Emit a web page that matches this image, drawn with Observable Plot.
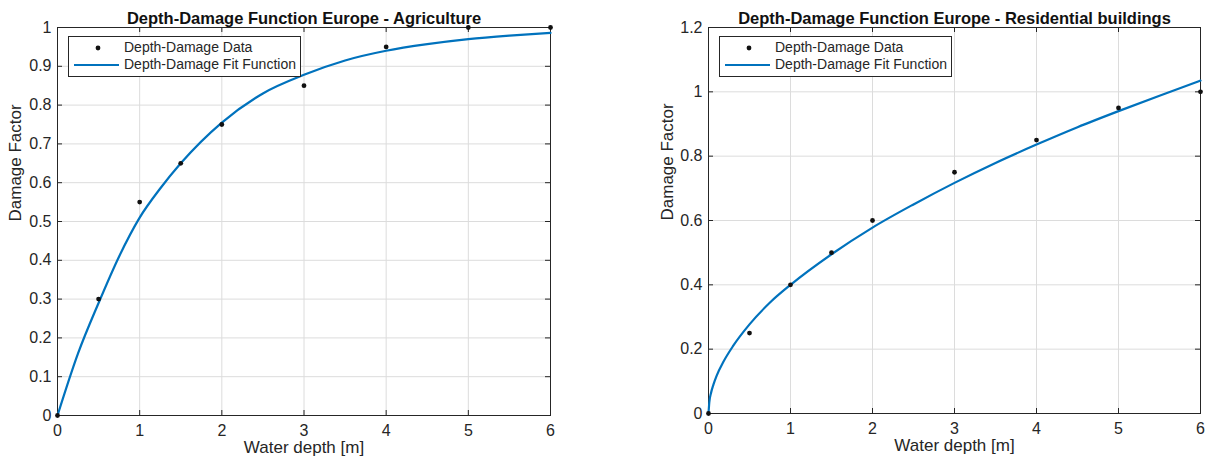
<!DOCTYPE html>
<html><head><meta charset="utf-8">
<script src="https://cdn.jsdelivr.net/npm/d3@7"></script>
<script src="https://cdn.jsdelivr.net/npm/@observablehq/plot@0.6"></script>
<style>
body{margin:0;background:#fff;font-family:"Liberation Sans",Arial,sans-serif;}
#wrap{position:relative;width:1209px;height:465px;}
.panel{position:absolute;top:0;}
.legend{position:absolute;background:#fff;border:1px solid #262626;font-size:14px;color:#262626;line-height:17px;padding:2px 4px 3px 4px;}
.legend div{display:flex;align-items:center;white-space:nowrap;}
.legend svg{margin-right:3px;}
</style>
</head><body>
<div id="wrap">
  <div id="left" class="panel" style="left:0"></div>
  <div id="right" class="panel" style="left:604px"></div>
</div>
<script>
// ---- data ----
const xTicks = [0, 1, 2, 3, 4, 5, 6];

const agriDepth  = [0, 0.5, 1, 1.5, 2, 3, 4, 5, 6];
const agriDamage = [0, 0.30, 0.55, 0.65, 0.75, 0.85, 0.95, 1.0, 1.0];
const agriFitDepth  = [0, 0.25, 0.5, 0.75, 1, 1.25, 1.5, 2, 2.5, 3, 3.5, 4, 4.5, 5, 5.5, 6];
const agriFitDamage = [0, 0.16, 0.29, 0.41, 0.51, 0.585, 0.65, 0.755, 0.83, 0.878, 0.915, 0.94, 0.957, 0.97, 0.979, 0.986];
const agriYTicks = [0, 0.1, 0.2, 0.3, 0.4, 0.5, 0.6, 0.7, 0.8, 0.9, 1];
const agriYLabels = ["0", "0.1", "0.2", "0.3", "0.4", "0.5", "0.6", "0.7", "0.8", "0.9", "1"];

const resDepth  = [0, 0.5, 1, 1.5, 2, 3, 4, 5, 6];
const resDamage = [0, 0.25, 0.40, 0.50, 0.60, 0.75, 0.85, 0.95, 1.0];
const resFitDepth  = [0, 0.01, 0.03, 0.06, 0.1, 0.18, 0.3, 0.5, 0.75, 1, 1.5, 2, 2.5, 3, 3.5, 4, 4.5, 5, 5.5, 6];
const resFitDamage = [0, 0.035, 0.063, 0.09, 0.118, 0.16, 0.21, 0.277, 0.345, 0.40, 0.495, 0.578, 0.65, 0.717, 0.779, 0.836, 0.89, 0.94, 0.988, 1.035];
const resYTicks = [0, 0.2, 0.4, 0.6, 0.8, 1, 1.2];
const resYLabels = ["0", "0.2", "0.4", "0.6", "0.8", "1", "1.2"];

const titles = ["Depth-Damage Function Europe - Agriculture", "Depth-Damage Function Europe - Residential buildings"];
const xLabel = "Water depth [m]";
const yLabel = "Damage Factor";
const legendLabels = ["Depth-Damage Data", "Depth-Damage Fit Function"];

const BLUE = "#0072BD", INK = "#262626", FONT = '"Liberation Sans", Arial, sans-serif';

function panel({depth, damage, fitDepth, fitDamage, yMax, yTicks, yLabels, title, width, ml, mr, mt, mb, ylabelDx}) {
  const H = 465, ph = H - mt - mb, pw = width - ml - mr;
  const pts = depth.map((d, i) => ({x: d, y: damage[i]}));
  const fit = fitDepth.map((d, i) => ({x: d, y: fitDamage[i]}));
  const yFmt = new Map(yTicks.map((t, i) => [t, yLabels[i]]));
  return Plot.plot({
    width, height: H,
    marginLeft: ml, marginRight: mr, marginTop: mt, marginBottom: mb,
    style: {fontFamily: FONT, color: INK, background: "#fff", overflow: "visible"},
    x: {domain: [0, 6], axis: null},
    y: {domain: [0, yMax], axis: null},
    marks: [
      Plot.ruleX(xTicks, {x: d => d, stroke: "#dcdcdc", strokeWidth: 1}),
      Plot.ruleY(yTicks, {y: d => d, stroke: "#dcdcdc", strokeWidth: 1}),
      // inward ticks
      Plot.ruleX(xTicks, {x: d => d, stroke: INK, insetTop: ph - 5}),
      Plot.ruleX(xTicks, {x: d => d, stroke: INK, insetBottom: ph - 5}),
      Plot.ruleY(yTicks, {y: d => d, stroke: INK, insetRight: pw - 5}),
      Plot.ruleY(yTicks, {y: d => d, stroke: INK, insetLeft: pw - 5}),
      Plot.frame({stroke: INK, strokeWidth: 1}),
      Plot.axisX(xTicks, {tickSize: 0, tickPadding: 9, fontSize: 16, fill: INK, label: null, tickFormat: d => String(d)}),
      Plot.axisY(yTicks, {tickSize: 0, tickPadding: 6, fontSize: 16, fill: INK, label: null, tickFormat: d => yFmt.get(d)}),
      Plot.text([title], {frameAnchor: "top", dy: -15, text: d => d, fontSize: 16.5, fontWeight: "bold", fill: "#111"}),
      Plot.text([xLabel], {frameAnchor: "bottom", dy: 37, text: d => d, fontSize: 17, fill: INK}),
      Plot.text([yLabel], {frameAnchor: "left", dx: ylabelDx, rotate: -90, text: d => d, fontSize: 17, fill: INK}),
      Plot.line(fit, {x: "x", y: "y", stroke: BLUE, strokeWidth: 2.2, curve: "monotone-x"}),
      Plot.dot(pts, {x: "x", y: "y", r: 2.4, fill: "#111", stroke: null})
    ]
  });
}

function legend(left, top) {
  const el = document.createElement("div");
  el.className = "legend";
  el.style.left = left + "px"; el.style.top = top + "px";
  el.innerHTML =
    `<div><svg width="48" height="14"><circle cx="25" cy="7" r="2.4" fill="#111"/></svg>${legendLabels[0]}</div>` +
    `<div><svg width="48" height="14"><line x1="1" x2="46" y1="7" y2="7" stroke="${BLUE}" stroke-width="2.2"/></svg>${legendLabels[1]}</div>`;
  return el;
}

const L = document.getElementById("left");
L.appendChild(panel({depth: agriDepth, damage: agriDamage, fitDepth: agriFitDepth, fitDamage: agriFitDamage,
  yMax: 1, yTicks: agriYTicks, yLabels: agriYLabels, title: titles[0],
  width: 604, ml: 57, mr: 54, mt: 27, mb: 50, ylabelDx: -42}));
L.appendChild(legend(68, 36));

const R = document.getElementById("right");
R.appendChild(panel({depth: resDepth, damage: resDamage, fitDepth: resFitDepth, fitDamage: resFitDamage,
  yMax: 1.2, yTicks: resYTicks, yLabels: resYLabels, title: titles[1],
  width: 605, ml: 104, mr: 9, mt: 27, mb: 52, ylabelDx: -41}));
R.appendChild(legend(115, 36));
</script>
</body></html>
